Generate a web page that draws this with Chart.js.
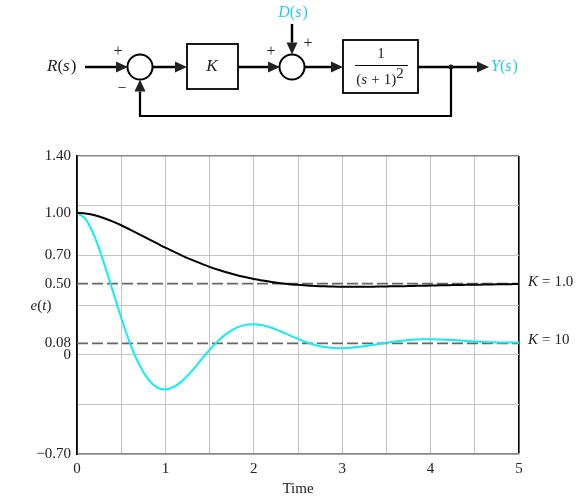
<!DOCTYPE html>
<html>
<head>
<meta charset="utf-8">
<script src="https://cdn.jsdelivr.net/npm/chart.js@4/dist/chart.umd.min.js"></script>
<style>
  html, body { margin: 0; padding: 0; background: #fff; }
  #wrap { position: relative; width: 583px; height: 500px; }
</style>
</head>
<body>
<div id="wrap"><canvas id="grafico" width="583" height="500"></canvas></div>
<script>
// tempo (s)
const tempo = [0, 0.1, 0.2, 0.3, 0.4, 0.5, 0.6, 0.7, 0.8, 0.9, 1.0,
  1.1, 1.2, 1.3, 1.4, 1.5, 1.6, 1.7, 1.8, 1.9, 2.0,
  2.1, 2.2, 2.3, 2.4, 2.5, 2.6, 2.7, 2.8, 2.9, 3.0,
  3.1, 3.2, 3.3, 3.4, 3.5, 3.6, 3.7, 3.8, 3.9, 4.0,
  4.1, 4.2, 4.3, 4.4, 4.5, 4.6, 4.7, 4.8, 4.9, 5.0];

// e(t) para K = 1.0
const erroK1 = [1.000, 0.995, 0.983, 0.963, 0.939, 0.912, 0.881, 0.850, 0.818, 0.786, 0.754,
  0.724, 0.695, 0.668, 0.643, 0.619, 0.598, 0.579, 0.562, 0.547, 0.533,
  0.522, 0.512, 0.504, 0.497, 0.492, 0.487, 0.484, 0.482, 0.480, 0.479,
  0.478, 0.479, 0.479, 0.480, 0.481, 0.482, 0.483, 0.484, 0.486, 0.487,
  0.489, 0.490, 0.491, 0.492, 0.493, 0.494, 0.495, 0.496, 0.497, 0.498];

// e(t) para K = 10
const erroK10 = [1.000, 0.954, 0.830, 0.656, 0.458, 0.260, 0.080, -0.065, -0.169, -0.229, -0.246,
  -0.226, -0.179, -0.114, -0.040, 0.033, 0.099, 0.152, 0.189, 0.210, 0.215,
  0.207, 0.190, 0.165, 0.138, 0.111, 0.087, 0.067, 0.054, 0.047, 0.045,
  0.048, 0.055, 0.064, 0.074, 0.084, 0.093, 0.100, 0.105, 0.108, 0.108,
  0.107, 0.104, 0.101, 0.097, 0.093, 0.090, 0.087, 0.086, 0.085, 0.085];

// linhas tracejadas de regime (valores finais)
const regimeK1 = 0.50;
const regimeK10 = 0.08;

// marcas do eixo y
const rotulosY = [1.40, 1.00, 0.70, 0.50, 0.08, 0, -0.70];
const gradeY = [-0.70, -0.35, 0, 0.35, 0.70, 1.05, 1.40];
const rotulosX = [0, 1, 2, 3, 4, 5];

const serif = "'Liberation Serif', 'DejaVu Serif', serif";
const ciano = '#10eef2';
const cianoTexto = '#2cc8e6';

function tem(lista, v) {
  return lista.some(function(a) { return Math.abs(a - v) < 1e-6; });
}

function fmtY(v) {
  if (Math.abs(v) < 1e-9) return '0';
  const s = Math.abs(v).toFixed(2);
  return v < 0 ? '\u2212' + s : s;
}

// escreve texto com partes em itálico
function textoMisto(ctx, partes, x, y, tam, cor, alinh) {
  let largura = 0;
  partes.forEach(function(p) {
    ctx.font = (p[1] ? 'italic ' : '') + tam + 'px ' + serif;
    largura += ctx.measureText(p[0]).width + (p[2] || 0);
  });
  let cx = x;
  if (alinh === 'center') cx = x - largura / 2;
  if (alinh === 'right') cx = x - largura;
  ctx.fillStyle = cor;
  ctx.textBaseline = 'middle';
  ctx.textAlign = 'left';
  partes.forEach(function(p) {
    ctx.font = (p[1] ? 'italic ' : '') + tam + 'px ' + serif;
    ctx.fillText(p[0], cx, y + (p[3] || 0));
    cx += ctx.measureText(p[0]).width + (p[2] || 0);
  });
}

function seta(ctx, x1, y1, x2, y2) {
  const ang = Math.atan2(y2 - y1, x2 - x1);
  const L = 12, W = 5.5;
  ctx.beginPath();
  ctx.moveTo(x1, y1);
  ctx.lineTo(x2 - L * Math.cos(ang), y2 - L * Math.sin(ang));
  ctx.stroke();
  ctx.beginPath();
  ctx.moveTo(x2, y2);
  ctx.lineTo(x2 - L * Math.cos(ang) + W * Math.sin(ang), y2 - L * Math.sin(ang) - W * Math.cos(ang));
  ctx.lineTo(x2 - L * Math.cos(ang) - W * Math.sin(ang), y2 - L * Math.sin(ang) + W * Math.cos(ang));
  ctx.closePath();
  ctx.fill();
}

// diagrama de blocos e textos extras
const diagrama = {
  id: 'diagrama',
  afterDraw: function(chart) {
    const ctx = chart.ctx;
    ctx.save();
    ctx.strokeStyle = '#000';
    ctx.fillStyle = '#000';
    ctx.lineWidth = 2.5;
    const yc = 67;

    textoMisto(ctx, [['R', true], ['(', false], ['s', true, 1], [')', false]], 47, yc, 17, '#222', 'left');
    seta(ctx, 85, yc, 128, yc);
    seta(ctx, 153, yc, 187, yc);
    seta(ctx, 238, yc, 280, yc);
    seta(ctx, 292, 24, 292, 54.5);
    seta(ctx, 305, yc, 343, yc);
    seta(ctx, 418, yc, 489, yc);
    ctx.lineWidth = 2;
    ctx.beginPath(); ctx.arc(140, yc, 12.5, 0, Math.PI * 2); ctx.stroke();
    ctx.beginPath(); ctx.arc(292, yc, 12.5, 0, Math.PI * 2); ctx.stroke();
    ctx.lineWidth = 1.8;
    ctx.strokeRect(187, 44, 51, 45);
    ctx.strokeRect(343, 40, 75, 53);
    ctx.beginPath(); ctx.arc(451, yc, 2.5, 0, Math.PI * 2); ctx.fill();
    // realimentação
    ctx.lineWidth = 2.2;
    ctx.beginPath();
    ctx.moveTo(451, yc); ctx.lineTo(451, 116); ctx.lineTo(140, 116); ctx.lineTo(140, 92);
    ctx.stroke();
    seta(ctx, 140, 95, 140, 79.5);

    // sinais
    textoMisto(ctx, [['+', false]], 118, 52, 16, '#222', 'center');
    textoMisto(ctx, [['\u2212', false]], 122, 89, 16, '#222', 'center');
    textoMisto(ctx, [['+', false]], 271, 52, 16, '#222', 'center');
    textoMisto(ctx, [['+', false]], 308, 44, 16, '#222', 'center');

    textoMisto(ctx, [['K', true]], 212, yc, 17, '#222', 'center');
    textoMisto(ctx, [['D', true], ['(', false], ['s', true, 1], [')', false]], 293, 13, 16, cianoTexto, 'center');
    textoMisto(ctx, [['Y', true], ['(', false], ['s', true, 1], [')', false]], 491, yc, 16, cianoTexto, 'left');

    // função de transferência
    textoMisto(ctx, [['1', false]], 381, 54, 15, '#222', 'center');
    ctx.lineWidth = 1;
    ctx.beginPath(); ctx.moveTo(355, 65.5); ctx.lineTo(408, 65.5); ctx.stroke();
    textoMisto(ctx, [['(', false], ['s', true, 4], ['+', false, 4], ['1)', false], ['2', false, 0, -6]], 380, 80, 15, '#222', 'center');

    // rótulos do gráfico
    textoMisto(ctx, [['e', true], ['(', false], ['t', true], [')', false]], 41, 306, 15, '#222', 'center');
    textoMisto(ctx, [['K', true, 4], ['=', false, 4], ['1.0', false]], 528, 282, 15, '#222', 'left');
    textoMisto(ctx, [['K', true, 4], ['=', false, 4], ['10', false]], 528, 340, 15, '#222', 'left');
    ctx.restore();
  }
};

const ctx = document.getElementById('grafico').getContext('2d');
const grafico = new Chart(ctx, {
  type: 'line',
  data: {
    labels: tempo,
    datasets: [
      {
        label: 'K = 1.0',
        data: tempo.map(function(t, i) { return { x: t, y: erroK1[i] }; }),
        borderColor: '#000',
        borderWidth: 2,
        pointRadius: 0,
        tension: 0.3
      },
      {
        label: 'K = 10',
        data: tempo.map(function(t, i) { return { x: t, y: erroK10[i] }; }),
        borderColor: ciano,
        borderWidth: 2,
        pointRadius: 0,
        tension: 0.3
      },
      {
        label: 'regime K = 1.0',
        data: [{ x: 0, y: regimeK1 }, { x: 5, y: regimeK1 }],
        borderColor: '#666',
        borderWidth: 1.8,
        borderDash: [11, 4],
        pointRadius: 0
      },
      {
        label: 'regime K = 10',
        data: [{ x: 0, y: regimeK10 }, { x: 5, y: regimeK10 }],
        borderColor: '#666',
        borderWidth: 1.8,
        borderDash: [11, 4],
        pointRadius: 0
      }
    ]
  },
  options: {
    responsive: false,
    animation: false,
    layout: { padding: { top: 156, right: 64, left: 0, bottom: 0 } },
    plugins: {
      legend: { display: false },
      tooltip: { enabled: false }
    },
    scales: {
      x: {
        type: 'linear',
        min: 0,
        max: 5,
        afterFit: function(scale) { scale.height = 46; },
        afterBuildTicks: function(scale) {
          scale.ticks = [];
          for (let i = 0; i <= 10; i++) scale.ticks.push({ value: i / 2 });
        },
        border: { display: true, color: '#888', width: 1.6 },
        grid: {
          drawTicks: false,
          color: function(c) {
            const v = c.tick ? c.tick.value : 0;
            if (v === 0 || v === 5) return '#000';
            return '#c4c4c4';
          },
          lineWidth: function(c) {
            const v = c.tick ? c.tick.value : 0;
            return (v === 0 || v === 5) ? 1.6 : 1;
          }
        },
        ticks: {
          padding: 6,
          color: '#222',
          font: { family: serif, size: 15 },
          maxRotation: 0,
          autoSkip: false,
          callback: function(v) { return tem(rotulosX, v) ? String(v) : ''; }
        },
        title: {
          display: true,
          text: 'Time',
          color: '#222',
          font: { family: serif, size: 15 },
          padding: { top: 0, bottom: 2 }
        }
      },
      y: {
        min: -0.70,
        max: 1.40,
        afterFit: function(scale) { scale.width = 77; },
        afterBuildTicks: function(scale) {
          const todos = rotulosY.concat(gradeY.filter(function(v) { return !tem(rotulosY, v); }));
          todos.sort(function(a, b) { return a - b; });
          scale.ticks = todos.map(function(v) { return { value: v }; });
        },
        border: { display: true, color: '#000', width: 1.6 },
        grid: {
          drawTicks: false,
          color: function(c) {
            const v = c.tick ? c.tick.value : 0;
            if (!tem(gradeY, v)) return 'rgba(0,0,0,0)';
            if (Math.abs(v - 1.4) < 1e-6) return '#888';
            return '#c4c4c4';
          },
          lineWidth: function(c) {
            const v = c.tick ? c.tick.value : 0;
            return Math.abs(v - 1.4) < 1e-6 ? 1.6 : 1;
          }
        },
        ticks: {
          padding: 6,
          color: '#222',
          font: { family: serif, size: 15 },
          autoSkip: false,
          callback: function(v) { return tem(rotulosY, v) ? fmtY(v) : ''; }
        }
      }
    }
  },
  plugins: [diagrama]
});
</script>
</body>
</html>
